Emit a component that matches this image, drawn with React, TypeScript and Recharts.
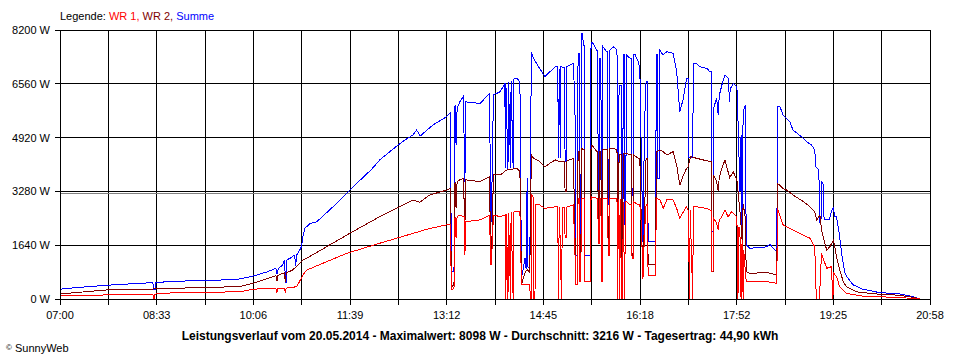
import { CartesianGrid, Line, LineChart, ReferenceLine, XAxis, YAxis } from "recharts";

// minutes after 07:00, watts
const timeLabels = ["07:00", "08:33", "10:06", "11:39", "13:12", "14:45", "16:18", "17:52", "19:25", "20:58"];
const powerTicks = [0, 1640, 3280, 4920, 6560, 8200];
const dayLength = 838;
const average = 3216;

const summe: [number, number][] = [
  [0, 300], [13, 340], [45, 420], [89.5, 500], [90, 280], [91.5, 280], [92, 500], [109, 540], [150, 570],
  [173, 610], [186, 700], [200, 830], [208, 940], [209, 750], [210.5, 940], [214, 1020], [216.5, 1190],
  [217, 500], [218, 500], [218.5, 1190], [222, 1250], [226, 1340], [227, 1000], [228, 1340], [231, 1500],
  [232.5, 1590], [234, 1900], [236, 2160], [241, 2300], [247, 2350], [251, 2460], [270, 3020], [276, 3220],
  [286, 3530], [300, 3950], [308, 4240], [320, 4550], [330, 4800], [340, 5000], [343.5, 5150], [347, 4970],
  [359, 5300], [372.5, 5560], [376, 5680], [377, 830], [379.5, 830], [380.5, 5910], [381.5, 4690],
  [382.5, 5800], [385, 6010], [388.5, 6170], [390, 3580], [391, 6010], [404.5, 5960], [414, 6270],
  [414.5, 2360], [415.5, 2360], [417.5, 6220], [424, 6320], [428.5, 6570], [429, 3980], [429.5, 6570],
  [431.5, 3950], [432, 6600], [434, 4000], [434.5, 6650], [436.5, 3950], [437, 6700], [440, 6730],
  [443, 6620], [444.5, 630], [446, 900], [448, 1250], [449, 900], [450, 3680], [450.5, 1000], [452.5, 900],
  [454, 7540], [456, 7340], [462, 7030], [467, 6780], [472, 6930], [477, 7080], [479.5, 7080], [480, 4300],
  [481, 7000], [482, 4300], [482.5, 7080], [486, 7050], [486.5, 4200], [487.5, 4200], [488, 7080],
  [494.5, 7180], [496, 5910], [497, 1340], [498.5, 1340], [499, 7490], [500, 7490], [500.5, 1440],
  [501.5, 1440], [502.5, 8098], [503.5, 8098], [504, 7740], [505, 7740], [505.5, 1340], [511, 1340],
  [511.5, 7840], [513.5, 7790], [517, 7590], [518, 7590], [518.5, 1850], [519.5, 1850], [520, 7340],
  [521, 7340], [521.5, 1340], [522.5, 1340], [523, 7690], [526.5, 7540], [527.5, 7540], [528, 2870],
  [529, 2870], [529.5, 7590], [533, 7690], [536.5, 7590], [537, 3370], [538, 3370], [538.5, 6520],
  [540.5, 6520], [541, 1340], [542, 1340], [542.5, 7440], [543.5, 7440], [544, 2260], [545, 2260],
  [545.5, 7440], [549, 7340], [550.5, 7340], [551, 3170], [552, 3170], [552.5, 7440], [554, 7440],
  [557, 7230], [558.5, 7030], [560, 4290], [561.5, 1750], [563, 5300], [564.5, 6620], [565.5, 6620],
  [566.5, 1750], [573.5, 1750], [574.5, 7440], [575.5, 7440], [576, 3680], [577, 3680], [577.5, 7590],
  [581, 7440], [584.5, 7540], [590.5, 7490], [594, 6930], [597, 5710], [600.5, 6120], [603.5, 6730],
  [605, 6730], [605.5, 4300], [609.5, 4300], [610, 7180], [613, 7180], [616.5, 7080], [623, 7030],
  [626, 6930], [627.5, 6930], [628, 2050], [629, 2050], [629.5, 5810], [632.5, 6120], [634, 5600],
  [635, 6200], [637.5, 6520], [640.5, 6830], [643.5, 6730], [645, 6010], [645.5, 6400], [648.5, 6570],
  [652, 6470], [653, 5510], [655, 3270], [656, 5000], [657, 2050], [658, 5700], [660, 5910], [661, 1650],
  [664.5, 1545], [680.5, 1590], [684, 1670], [687, 1545], [690.5, 1440], [691, 5860], [693.5, 5860],
  [696.5, 5610], [703, 5400], [706, 5150], [716, 4900], [719, 4800], [724, 4690], [727, 4540], [728, 4030],
  [731, 3930], [731.5, 2310], [733, 2400], [733.5, 3580], [735, 3500], [736, 2410], [741, 2410],
  [743, 2660], [745, 2810], [746, 2500], [748, 2510], [751, 1900], [753, 1350], [756, 800], [758, 680],
  [764, 430], [773, 300], [790, 190], [806, 170], [822, 70], [828, 0],
];

const wr2: [number, number][] = [
  [0, 150], [13, 190], [45, 275], [90, 305], [141, 355], [173, 375], [186, 480], [205.5, 680], [208, 720],
  [209, 560], [210, 720], [216, 800], [217, 520], [218, 800], [224, 880], [234, 1190], [237.5, 1240],
  [249, 1450], [279, 2000], [308, 2510], [340, 3020], [346.5, 2950], [356, 3170], [372.5, 3320],
  [376, 3370], [377, 375], [379.5, 430], [380.5, 3580], [381.5, 2760], [382.5, 3580], [385, 3630],
  [388.5, 3680], [390, 2260], [391, 3630], [404.5, 3580], [414, 3730], [414.5, 1040], [415.5, 1040],
  [417.5, 3780], [424, 3780], [430, 3930], [440, 3980], [443, 3900], [444.5, 430], [446, 600], [448, 800],
  [450, 900], [452.5, 800], [454, 4390], [456, 4300], [462, 4190], [467, 4030], [472, 4140], [477, 4240],
  [480, 4200], [486, 4200], [486.5, 3270], [487.5, 3270], [488, 4200], [494.5, 4290], [497, 430],
  [498.5, 430], [499, 4490], [500, 4490], [500.5, 530], [501.5, 530], [502.5, 4590], [504, 4550],
  [505, 4550], [505.5, 530], [511, 530], [511.5, 4690], [513.5, 4650], [517, 4490], [518, 4490],
  [518.5, 1850], [519.5, 1850], [520, 4500], [521, 4500], [521.5, 530], [522.5, 530], [523, 4550],
  [527.5, 4550], [528, 1700], [529, 1700], [529.5, 4600], [533, 4590], [536.5, 4550], [537, 1700],
  [538, 1700], [538.5, 4400], [540.5, 4400], [541, 600], [542, 600], [542.5, 4440], [545.5, 4440],
  [549, 4390], [550.5, 4390], [551, 1240], [552, 1240], [552.5, 4400], [557, 4290], [558.5, 4290],
  [560, 2260], [561.5, 730], [563, 2500], [564.5, 4290], [565.5, 4290], [566.5, 1040], [573.5, 1040],
  [574.5, 4490], [577.5, 4540], [581, 4490], [584.5, 4390], [590.5, 4490], [594, 4080], [597, 3470],
  [600.5, 3780], [603.5, 3980], [605, 4030], [607.5, 4340], [613, 4290], [619.5, 4240], [626, 4190],
  [627.5, 4190], [628, 830], [629, 830], [629.5, 3780], [632.5, 3580], [634, 3300], [635, 3700],
  [637.5, 3980], [640.5, 4240], [643.5, 3880], [645, 3700], [648.5, 3880], [652, 3630], [653, 3300],
  [655, 2660], [657, 1800], [658, 2900], [660, 2500], [661, 830], [664.5, 780], [680.5, 810], [690.5, 730],
  [691, 3530], [696.5, 3370], [700, 3320], [706, 3170], [716, 2970], [722.5, 2810], [727, 2660],
  [729, 2410], [732, 2560], [733.5, 2100], [738.5, 1490], [741.5, 1590], [745, 1800], [748, 1290],
  [751, 880], [754.5, 530], [757.5, 375], [767, 220], [790, 140], [806, 120], [822, 50], [828, 0],
];

const wr1: [number, number][] = [
  [0, 100], [13, 100], [38.5, 120], [89.5, 150], [90, 0], [91, 0], [91.5, 150], [109, 190], [173, 220],
  [186, 300], [205.5, 325], [208, 325], [209, 200], [210, 325], [216, 330], [217, 220], [218, 330],
  [228, 375], [234, 730], [237.5, 880], [276, 1390], [308, 1700], [340, 2000], [356, 2150], [372.5, 2260],
  [376, 2260], [377, 275], [379.5, 325], [380.5, 2510], [381.5, 1850], [382.5, 2510], [385, 2560],
  [389.5, 2500], [390, 1340], [391, 2360], [404.5, 2410], [414, 2560], [414.5, 1040], [415.5, 1040],
  [417.5, 2560], [424, 2510], [429, 2560], [429.5, 0], [430, 2600], [431.5, 0], [432, 2620], [434, 0],
  [434.5, 2640], [436.5, 0], [437, 2650], [440, 2660], [443, 2660], [444.5, 430],
  [452.5, 430], [453, 0], [454, 0], [454.5, 3170], [456, 3100], [456.5, 0], [457.5, 0], [458, 2870],
  [462, 2870], [467, 2760], [472, 2790], [477, 2810], [479.5, 2810], [480, 0], [481, 2810], [483, 0],
  [484, 2800], [486, 2800], [486.5, 1860], [487.5, 1860], [488, 2800], [494.5, 2870], [497, 430], [498.5, 430],
  [499, 3070], [500, 3070], [500.5, 530], [501.5, 530], [502.5, 3070], [505, 3070], [505.5, 530],
  [511, 530], [511.5, 3120], [517, 3070], [518, 3070], [518.5, 1700], [519.5, 1700], [520, 3070],
  [521, 3070], [521.5, 530], [522.5, 530], [523, 3070], [527.5, 3070], [528, 1340], [529, 1340],
  [529.5, 3070], [533, 3070], [536.5, 3070], [537, 0], [538, 3050], [539, 0], [539.5, 3050], [541, 0],
  [542, 0], [542.5, 2970], [544, 0], [544.5, 2970], [546, 2970], [549, 2870], [550.5, 2870], [551, 1240],
  [552, 1240], [552.5, 2970], [557, 2870], [558.5, 2870], [560, 2260], [561.5, 600], [563, 2000],
  [564.5, 2870], [565.5, 2870], [566.5, 730], [573.5, 730], [574.5, 3070], [578, 3020], [581, 2760],
  [584.5, 3020], [590.5, 3020], [594, 2760], [597, 2460], [600.5, 2660], [603.5, 2810], [605, 2710],
  [606.5, 0], [607, 2710], [609.5, 0], [610, 2810], [613, 2810], [619.5, 2780], [623, 2760], [626, 2710],
  [627.5, 2710], [628, 830], [629, 830], [629.5, 2460], [632.5, 2310], [634, 2100], [635, 2400],
  [637.5, 2510], [640.5, 2710], [643.5, 2510], [647, 2660], [652, 2510], [653, 0], [654, 2200], [655, 1900],
  [656, 0], [657, 1800], [658, 0], [658.5, 1500], [661, 530], [664.5, 530], [680.5, 530], [690.5, 480],
  [691, 2760], [696.5, 2260], [700, 2200], [706, 2100], [716, 1950], [722.5, 1850], [727, 1590],
  [728.5, 0], [731.5, 0], [733.5, 1390], [738.5, 935], [743, 985], [744.5, 0], [745, 800], [748, 680],
  [751, 375], [757.5, 170], [773, 90], [790, 70], [822, 20], [828, 0],
];

const toPoints = (rows: [number, number][]) => rows.map(([t, w]) => ({ t, w }));

const step = dayLength / 18;
const timeTicks = Array.from({ length: 19 }, (_, i) => i * step);
const formatTime = (v: number) => {
  const i = Math.round(v / step);
  return i % 2 === 0 ? timeLabels[i / 2] : "";
};

const font = "'Liberation Sans', Arial, sans-serif";

export default function App() {
  return (
    <div style={{ position: "absolute", left: 0, top: 0, width: 960, height: 360, background: "#fff", fontFamily: font }}>
      <div style={{ position: "absolute", left: 60, top: 10, fontSize: 11, lineHeight: "13px", whiteSpace: "nowrap" }}>
        Legende: <span style={{ color: "#ff0000" }}>WR 1,</span> <span style={{ color: "#800000" }}>WR 2,</span>{" "}
        <span style={{ color: "#0000ff" }}>Summe</span>
      </div>
      <div style={{ shapeRendering: "crispEdges" }}>
        <LineChart width={960} height={360} margin={{ top: 30, right: 30, left: 0, bottom: 0 }}>
          <CartesianGrid stroke="#000" />
          <XAxis
            dataKey="t"
            type="number"
            domain={[0, dayLength]}
            ticks={timeTicks}
            interval={0}
            tickFormatter={formatTime}
            height={61}
            tickSize={6}
            tickMargin={6}
            axisLine={{ stroke: "#000" }}
            tickLine={{ stroke: "#000" }}
            tick={{ fill: "#000", fontSize: 11, fontFamily: font }}
          />
          <YAxis
            type="number"
            domain={[0, 8200]}
            ticks={powerTicks}
            interval={0}
            width={60}
            tickFormatter={(v: number) => `${v} W`}
            tickSize={5}
            tickMargin={5}
            axisLine={{ stroke: "#000" }}
            tickLine={{ stroke: "#000" }}
            tick={{ fill: "#000", fontSize: 11, fontFamily: font }}
          />
          <ReferenceLine y={average} stroke="#808080" />
          <Line data={toPoints(summe)} dataKey="w" type="linear" stroke="#0000ff" strokeWidth={1} dot={false} isAnimationActive={false} />
          <Line data={toPoints(wr2)} dataKey="w" type="linear" stroke="#800000" strokeWidth={1} dot={false} isAnimationActive={false} />
          <Line data={toPoints(wr1)} dataKey="w" type="linear" stroke="#ff0000" strokeWidth={1} dot={false} isAnimationActive={false} />
        </LineChart>
      </div>
      <div style={{ position: "absolute", left: 0, top: 329, width: 960, textAlign: "center", fontSize: 12, fontWeight: "bold", lineHeight: "14px", whiteSpace: "nowrap" }}>
        Leistungsverlauf vom 20.05.2014 - Maximalwert: 8098 W - Durchschnitt: 3216 W - Tagesertrag: 44,90 kWh
      </div>
      <div style={{ position: "absolute", left: 6, top: 341, fontSize: 11, lineHeight: "13px", whiteSpace: "nowrap" }}>
        <span style={{ fontSize: 8, verticalAlign: "2px" }}>©</span> SunnyWeb
      </div>
    </div>
  );
}
